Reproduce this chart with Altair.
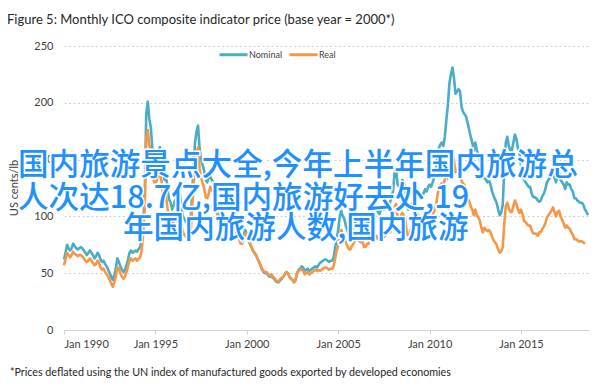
import altair as alt
import pandas as pd

# Monthly values, Jan 1990 onward (US cents/lb)
nominal = [
    62, 68, 75, 72, 70, 72, 76, 74, 72, 71, 72, 73,        # 1990
    72, 70, 68, 66, 68, 70, 68, 66, 63, 65, 68, 66,        # 1991
    62, 60, 61, 58, 56, 53, 50, 47, 44, 48, 54, 63,        # 1992
    60, 56, 53, 51, 53, 57, 62, 68, 70, 68, 69, 70,        # 1993
    69, 71, 73, 79, 95, 120, 191, 201, 186, 178, 160, 150,  # 1994
    148, 155, 158, 161, 152, 138, 132, 136, 124, 115, 112, 106,  # 1995
    110, 115, 112, 118, 120, 108, 100, 98, 95, 95, 92, 95,  # 1996
    118, 140, 165, 175, 180, 160, 150, 145, 140, 132, 130, 135,  # 1997
    135, 132, 130, 125, 115, 105, 100, 100, 96, 95, 98, 96,  # 1998
    98, 95, 96, 92, 94, 90, 85, 82, 78, 78, 84, 88,        # 1999
    84, 80, 76, 73, 70, 68, 66, 63, 60, 57, 53, 51,        # 2000
    50, 50, 48, 47, 48, 46, 45, 43, 42, 42, 44, 45,        # 2001
    47, 49, 51, 50, 47, 45, 44, 42, 44, 50, 53, 54,        # 2002
    56, 55, 52, 53, 54, 52, 53, 54, 55, 56, 55, 57,        # 2003
    59, 60, 61, 62, 62, 61, 60, 61, 61, 64, 72, 80,        # 2004
    88, 100, 105, 100, 98, 92, 88, 84, 84, 88, 90, 94,     # 2005
    100, 98, 96, 95, 96, 90, 90, 94, 94, 98, 105, 106,     # 2006
    108, 108, 104, 102, 106, 108, 106, 108, 112, 112, 112, 118,  # 2007
    122, 138, 142, 128, 126, 128, 132, 130, 126, 110, 106, 108,  # 2008
    110, 112, 110, 116, 124, 122, 118, 120, 120, 124, 122, 126,  # 2009
    128, 126, 130, 134, 138, 150, 160, 163, 165, 162, 170, 185,  # 2010
    198, 217, 225, 231, 222, 208, 210, 212, 210, 196, 192, 190,  # 2011
    188, 182, 176, 170, 165, 158, 165, 158, 155, 150, 140, 134,  # 2012
    134, 132, 130, 132, 128, 122, 118, 115, 112, 106, 101, 103,  # 2013
    110, 141, 165, 170, 162, 158, 158, 165, 172, 168, 160, 156,  # 2014
    145, 140, 132, 130, 128, 126, 126, 120, 117, 117, 116, 114,  # 2015
    113, 114, 118, 120, 124, 130, 132, 134, 136, 138, 134, 130,  # 2016
    136, 138, 132, 130, 128, 124, 130, 128, 128, 124, 122, 116,  # 2017
    116, 114, 113, 112, 112, 110, 106, 104, 101,           # 2018
]

real = [
    57, 62, 68, 66, 64, 66, 69, 67, 66, 65, 66, 66,        # 1990
    65, 63, 61, 60, 61, 63, 61, 59, 57, 58, 61, 59,        # 1991
    55, 53, 54, 51, 49, 47, 44, 41, 38, 42, 47, 55,        # 1992
    54, 50, 47, 45, 47, 51, 56, 61, 63, 61, 62, 63,        # 1993
    61, 63, 64, 70, 84, 106, 168, 176, 163, 156, 140, 131,  # 1994
    127, 133, 136, 138, 131, 119, 114, 117, 107, 99, 96, 91,  # 1995
    95, 99, 96, 101, 103, 93, 86, 84, 82, 82, 79, 82,      # 1996
    105, 125, 147, 156, 161, 142, 134, 129, 125, 117, 116, 120,  # 1997
    126, 123, 121, 116, 107, 98, 93, 93, 89, 88, 91, 89,   # 1998
    95, 92, 93, 89, 91, 87, 82, 80, 76, 76, 81, 85,        # 1999
    84, 81, 77, 73, 70, 68, 66, 63, 60, 57, 54, 52,        # 2000
    51, 51, 49, 48, 49, 47, 46, 44, 43, 43, 45, 46,        # 2001
    47, 49, 51, 50, 47, 45, 44, 42, 44, 50, 52, 53,        # 2002
    53, 52, 49, 50, 51, 49, 50, 51, 52, 53, 52, 53,        # 2003
    52, 53, 54, 55, 55, 54, 53, 54, 54, 56, 63, 70,        # 2004
    74, 84, 88, 84, 82, 77, 74, 71, 71, 74, 76, 79,        # 2005
    81, 79, 78, 77, 78, 73, 73, 76, 76, 79, 85, 86,        # 2006
    83, 83, 80, 79, 82, 83, 82, 83, 86, 86, 86, 91,        # 2007
    95, 108, 111, 100, 98, 100, 103, 101, 98, 86, 83, 85,  # 2008
    90, 92, 90, 95, 102, 100, 97, 98, 98, 102, 100, 103,   # 2009
    100, 98, 101, 105, 108, 117, 125, 127, 129, 126, 133, 144,  # 2010
    133, 145, 151, 155, 149, 139, 141, 142, 141, 131, 129, 127,  # 2011
    120, 116, 113, 109, 106, 101, 106, 101, 99, 96, 90, 86,  # 2012
    90, 88, 87, 88, 86, 82, 79, 77, 75, 71, 68, 69,        # 2013
    73, 93, 109, 112, 107, 104, 104, 109, 114, 111, 106, 103,  # 2014
    106, 102, 96, 95, 93, 92, 92, 88, 85, 85, 85, 83,      # 2015
    86, 86, 89, 91, 94, 99, 101, 103, 105, 108, 104, 100,  # 2016
    104, 105, 100, 97, 94, 90, 92, 90, 89, 86, 84, 80,     # 2017
    80, 79, 78, 78, 78, 77, 76,                            # 2018
]

series_names = ["Nominal", "Real"]
series_colors = ["#4BACC6", "#F79646"]
tick_years = [1990, 1995, 2000, 2005, 2010, 2015]
y_ticks = [0, 50, 100, 150, 200, 250]

title_text = "Figure 5: Monthly  ICO composite indicator price (base year = 2000*)"
y_title = "US cents/lb"
footnote = "*Prices deflated using the UN index of manufactured goods exported by developed economies"
overlay_lines = [
    "国内旅游景点大全,今年上半年国内旅游总",
    "人次达18.7亿,国内旅游好去处,19",
    "年国内旅游人数,国内旅游",
]

rows = []
for name, vals in zip(series_names, [nominal, real]):
    for i, v in enumerate(vals):
        rows.append({"t": 1990 + i / 12.0, "v": v, "series": name})
df = pd.DataFrame(rows)

FONT = "Lato"
TXT = "#404040"

lines = alt.Chart(df).mark_line(strokeWidth=2.6, strokeJoin="round").encode(
    x=alt.X("t:Q",
            scale=alt.Scale(domain=[1990, 2018.72], nice=False, zero=False),
            axis=alt.Axis(values=tick_years, labelExpr="'Jan ' + datum.value",
                          title=None, grid=False, domainColor="#d0d0d0",
                          tickColor="#d0d0d0", tickSize=4, labelPadding=4,
                          labelFontSize=11, labelColor=TXT, labelFont=FONT)),
    y=alt.Y("v:Q",
            scale=alt.Scale(domain=[0, 250], nice=False),
            axis=alt.Axis(values=y_ticks, title=None, grid=True,
                          gridColor="#d0d0d0", gridDash=[2, 2.5], gridWidth=1,
                          domain=False, ticks=False, labelPadding=11,
                          labelFontSize=11, labelColor=TXT, labelFont=FONT)),
    color=alt.Color("series:N",
                    scale=alt.Scale(domain=series_names, range=series_colors),
                    legend=alt.Legend(title=None, orient="none", direction="horizontal",
                                      legendX=154, legendY=-7, symbolType="stroke",
                                      symbolStrokeWidth=3, symbolSize=784,
                                      labelFontSize=9, labelFont=FONT,
                                      labelColor=TXT, labelOffset=0,
                                      columnPadding=0, padding=0)),
)

one = alt.Data(values=[{"k": 0}])


def label(text, x, y, size, **kw):
    return alt.Chart(one).mark_text(text=text, fontSize=size, **kw).encode(
        x=alt.value(x), y=alt.value(y))


title_l = label(title_text, -57, -26, 13, font=FONT, color="#262626",
                align="left", baseline="middle")
ytitle_l = label(y_title, -49, 142, 11, font=FONT, color=TXT, angle=270,
                 align="center", baseline="middle")
foot_l = label(footnote, -54, 327, 10.7, font=FONT, color="#262626",
               align="left", baseline="middle")

cjk = "Noto Sans CJK SC"
ov_pos = [(-46, 120), (-46, 153), (59, 183)]
overlay = []
for txt, (ox, oy) in zip(overlay_lines, ov_pos):
    overlay.append(label(txt, ox, oy, 30.6, font=cjk, fontWeight=500, color="#ffffff",
                         stroke="#ffffff", strokeWidth=3, align="left",
                         baseline="middle"))
for txt, (ox, oy) in zip(overlay_lines, ov_pos):
    overlay.append(label(txt, ox, oy, 30.6, font=cjk, fontWeight=500, color="#1E90FF",
                         align="left", baseline="middle"))

chart = alt.layer(lines, title_l, ytitle_l, foot_l, *overlay).properties(
    width=525, height=284,
    autosize=alt.AutoSizeParams(type="none"),
    padding={"left": 56, "top": 38, "right": 7, "bottom": 52},
    background="white",
).configure_view(stroke=None)

chart.save("out.html", embed_options={"renderer": "svg", "actions": False})
